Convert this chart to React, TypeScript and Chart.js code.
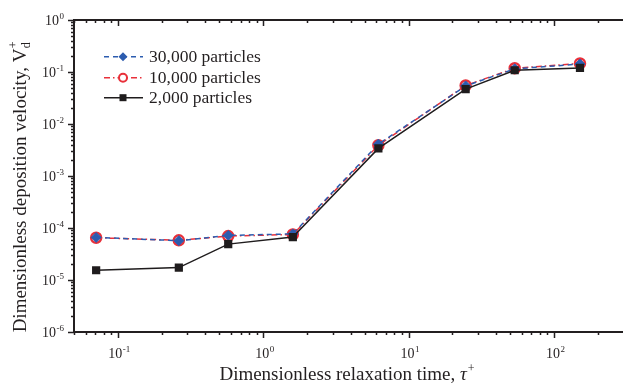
import React, { useEffect, useRef } from 'react';
import { Chart, registerables } from 'chart.js';

Chart.register(...registerables);

// ---- data ----
const tau = [0.071, 0.263, 0.575, 1.6, 6.2, 24.7, 53.7, 151];
const v30k = [6.6e-5, 5.7e-5, 7.2e-5, 7.7e-5, 4.1e-3, 5.4e-2, 1.15e-1, 1.42e-1];
const v10k = [6.5e-5, 5.8e-5, 7.0e-5, 7.5e-5, 3.9e-3, 5.5e-2, 1.18e-1, 1.46e-1];
const v2k = [1.54e-5, 1.73e-5, 4.9e-5, 6.7e-5, 3.4e-3, 4.7e-2, 1.08e-1, 1.2e-1];

const seriesNames = ['30,000 particles', '10,000 particles', '2,000 particles'];
const xTickExps = [-1, 0, 1, 2];
const yTickExps = [-6, -5, -4, -3, -2, -1, 0];
const xTitle = 'Dimensionless relaxation time, ';
const yTitle = 'Dimensionless deposition velocity, ';

const BLUE = '#2c5caf';
const RED = '#e8303a';
const BLACK = '#1f1c1d';
const INK = '#231f20';
const SERIF = '"Liberation Serif", "Times New Roman", serif';

function powLabel(ctx: CanvasRenderingContext2D, exp: number, x: number, y: number, align: 'center' | 'right') {
  const base = '10';
  const sup = String(exp);
  ctx.font = `14px ${SERIF}`;
  const wb = ctx.measureText(base).width;
  ctx.font = `9px ${SERIF}`;
  const ws = ctx.measureText(sup).width;
  const total = wb + ws + 0.5;
  let x0 = align === 'center' ? x - total / 2 + 1.5 : x - total;
  ctx.textAlign = 'left';
  ctx.textBaseline = 'alphabetic';
  ctx.font = `14px ${SERIF}`;
  ctx.fillText(base, x0, y);
  ctx.font = `9px ${SERIF}`;
  ctx.fillText(sup, x0 + wb + 0.5, y - 6);
}

const axesPlugin = {
  id: 'customAxes',
  beforeDatasetsDraw(chart: any) {
    const ctx = chart.ctx as CanvasRenderingContext2D;
    const { left, top, bottom, right } = chart.chartArea;
    const xs = chart.scales.x;
    const ys = chart.scales.y;
    ctx.save();
    ctx.strokeStyle = INK;
    ctx.lineWidth = 2;
    ctx.beginPath();
    ctx.moveTo(right + 10, top);
    ctx.lineTo(left, top);
    ctx.lineTo(left, bottom);
    ctx.lineTo(right + 10, bottom);
    ctx.stroke();

    ctx.lineWidth = 1.5;
    ctx.beginPath();
    for (let e = -3; e <= 3; e++) {
      for (let m = 1; m <= 9; m++) {
        const v = m * Math.pow(10, e);
        if (v < xs.min * 0.999 || v > xs.max) continue;
        const px = Math.round(xs.getPixelForValue(v)) + 0.5;
        const len = m === 1 ? 6 : 3;
        ctx.moveTo(px, bottom);
        ctx.lineTo(px, bottom + len);
        ctx.moveTo(px, top);
        ctx.lineTo(px, top + len);
      }
    }
    for (let e = -7; e <= 1; e++) {
      for (let m = 1; m <= 9; m++) {
        const v = m * Math.pow(10, e);
        if (v < ys.min * 0.999 || v > ys.max * 1.001) continue;
        const py = Math.round(ys.getPixelForValue(v)) + 0.5;
        const len = m === 1 ? 6 : 3;
        ctx.moveTo(left, py);
        ctx.lineTo(left - len, py);
      }
    }
    ctx.stroke();
    ctx.restore();
  },
  afterDraw(chart: any) {
    const ctx = chart.ctx as CanvasRenderingContext2D;
    const { left, top, bottom, right } = chart.chartArea;
    const xs = chart.scales.x;
    const ys = chart.scales.y;
    ctx.save();
    ctx.fillStyle = INK;
    // tick labels
    xTickExps.forEach((e) => {
      powLabel(ctx, e, xs.getPixelForValue(Math.pow(10, e)), bottom + 26, 'center');
    });
    yTickExps.forEach((e) => {
      powLabel(ctx, e, left - 10, ys.getPixelForValue(Math.pow(10, e)) + 5, 'right');
    });

    // x title
    ctx.font = `19px ${SERIF}`;
    const w1 = ctx.measureText(xTitle).width;
    ctx.font = `italic 19px ${SERIF}`;
    const w2 = ctx.measureText('τ').width;
    ctx.font = `12px ${SERIF}`;
    const w3 = ctx.measureText('+').width;
    const tw = w1 + w2 + w3 + 1;
    const cx = 347;
    let x0 = cx - tw / 2;
    const by = 380;
    ctx.textAlign = 'left';
    ctx.textBaseline = 'alphabetic';
    ctx.font = `19px ${SERIF}`;
    ctx.fillText(xTitle, x0, by);
    ctx.font = `italic 19px ${SERIF}`;
    ctx.fillText('τ', x0 + w1, by);
    ctx.font = `12px ${SERIF}`;
    ctx.fillText('+', x0 + w1 + w2 + 1, by - 8);

    // y title (rotated)
    ctx.save();
    ctx.translate(25.5, 187);
    ctx.rotate(-Math.PI / 2);
    ctx.font = `19px ${SERIF}`;
    const yw1 = ctx.measureText(yTitle).width;
    const yw2 = ctx.measureText('V').width;
    ctx.font = `12px ${SERIF}`;
    const yw3 = ctx.measureText('d').width;
    const ytw = yw1 + yw2 + yw3 + 1;
    const y0 = -ytw / 2;
    ctx.font = `19px ${SERIF}`;
    ctx.fillText(yTitle, y0, 0);
    ctx.fillText('V', y0 + yw1, 0);
    ctx.font = `12px ${SERIF}`;
    ctx.fillText('+', y0 + yw1 + yw2 + 0.5, -9);
    ctx.fillText('d', y0 + yw1 + yw2 + 0.5, 4);
    ctx.restore();

    // legend
    const rows = [56.7, 77.7, 97.7];
    const lx0 = 104;
    const lx1 = 143;
    const mx = 123;
    const dsets = chart.data.datasets;
    [0, 1, 2].forEach((i) => {
      const ds = dsets[i];
      const y = rows[i];
      ctx.save();
      ctx.strokeStyle = ds.borderColor;
      ctx.lineWidth = ds.borderWidth;
      ctx.setLineDash(ds.borderDash || []);
      ctx.beginPath();
      ctx.moveTo(lx0, y);
      ctx.lineTo(lx1, y);
      ctx.stroke();
      ctx.setLineDash([]);
      if (i === 0) {
        ctx.fillStyle = BLUE;
        ctx.beginPath();
        ctx.moveTo(mx, y - 4.5);
        ctx.lineTo(mx + 4.5, y);
        ctx.lineTo(mx, y + 4.5);
        ctx.lineTo(mx - 4.5, y);
        ctx.closePath();
        ctx.fill();
      } else if (i === 1) {
        ctx.fillStyle = '#ffffff';
        ctx.strokeStyle = RED;
        ctx.lineWidth = 2;
        ctx.beginPath();
        ctx.arc(mx, y, 4, 0, Math.PI * 2);
        ctx.fill();
        ctx.stroke();
      } else {
        ctx.fillStyle = BLACK;
        ctx.fillRect(mx - 3.5, y - 3.5, 7, 7);
      }
      ctx.restore();
      ctx.fillStyle = INK;
      ctx.font = `17.5px ${SERIF}`;
      ctx.textAlign = 'left';
      ctx.textBaseline = 'middle';
      ctx.fillText(seriesNames[i], 149, y + 1);
    });
    ctx.restore();
  },
};

export default function App() {
  const ref = useRef<HTMLCanvasElement>(null);
  useEffect(() => {
    if (!ref.current) return;
    const chart = new Chart(ref.current, {
      type: 'line',
      data: {
        datasets: [
          {
            label: seriesNames[0],
            data: tau.map((x, i) => ({ x, y: v30k[i] })),
            borderColor: BLUE,
            backgroundColor: BLUE,
            borderWidth: 1.5,
            borderDash: [5, 4],
            pointStyle: 'rectRot',
            pointRadius: 5,
            pointBackgroundColor: BLUE,
            pointBorderColor: BLUE,
            pointBorderWidth: 1,
            order: 1,
          },
          {
            label: seriesNames[1],
            data: tau.map((x, i) => ({ x, y: v10k[i] })),
            borderColor: RED,
            backgroundColor: RED,
            borderWidth: 1.5,
            borderDash: [6, 3, 1.5, 3],
            pointStyle: 'circle',
            pointRadius: 5,
            pointBackgroundColor: 'rgba(255,255,255,0)',
            pointBorderColor: RED,
            pointBorderWidth: 2.5,
            order: 2,
          },
          {
            label: seriesNames[2],
            data: tau.map((x, i) => ({ x, y: v2k[i] })),
            borderColor: BLACK,
            backgroundColor: BLACK,
            borderWidth: 1.5,
            pointStyle: 'rect',
            pointRadius: 5.8,
            pointBackgroundColor: BLACK,
            pointBorderColor: BLACK,
            pointBorderWidth: 0,
            order: 0,
          },
        ],
      },
      options: {
        animation: false,
        responsive: false,
        devicePixelRatio: 1,
        layout: { padding: { left: 74, top: 20, right: 0, bottom: 59 } },
        plugins: { legend: { display: false }, tooltip: { enabled: false } },
        scales: {
          x: { type: 'logarithmic', min: 0.05, max: 265, display: false },
          y: { type: 'logarithmic', min: 1e-6, max: 1, display: false },
        },
        elements: { line: { tension: 0 } },
      },
      plugins: [axesPlugin],
    } as any);
    return () => chart.destroy();
  }, []);
  return (
    <div style={{ position: 'absolute', left: 0, top: 0, width: 623, height: 391, overflow: 'hidden', background: '#fff' }}>
      <canvas ref={ref} width={623} height={391} style={{ display: 'block' }} />
    </div>
  );
}
